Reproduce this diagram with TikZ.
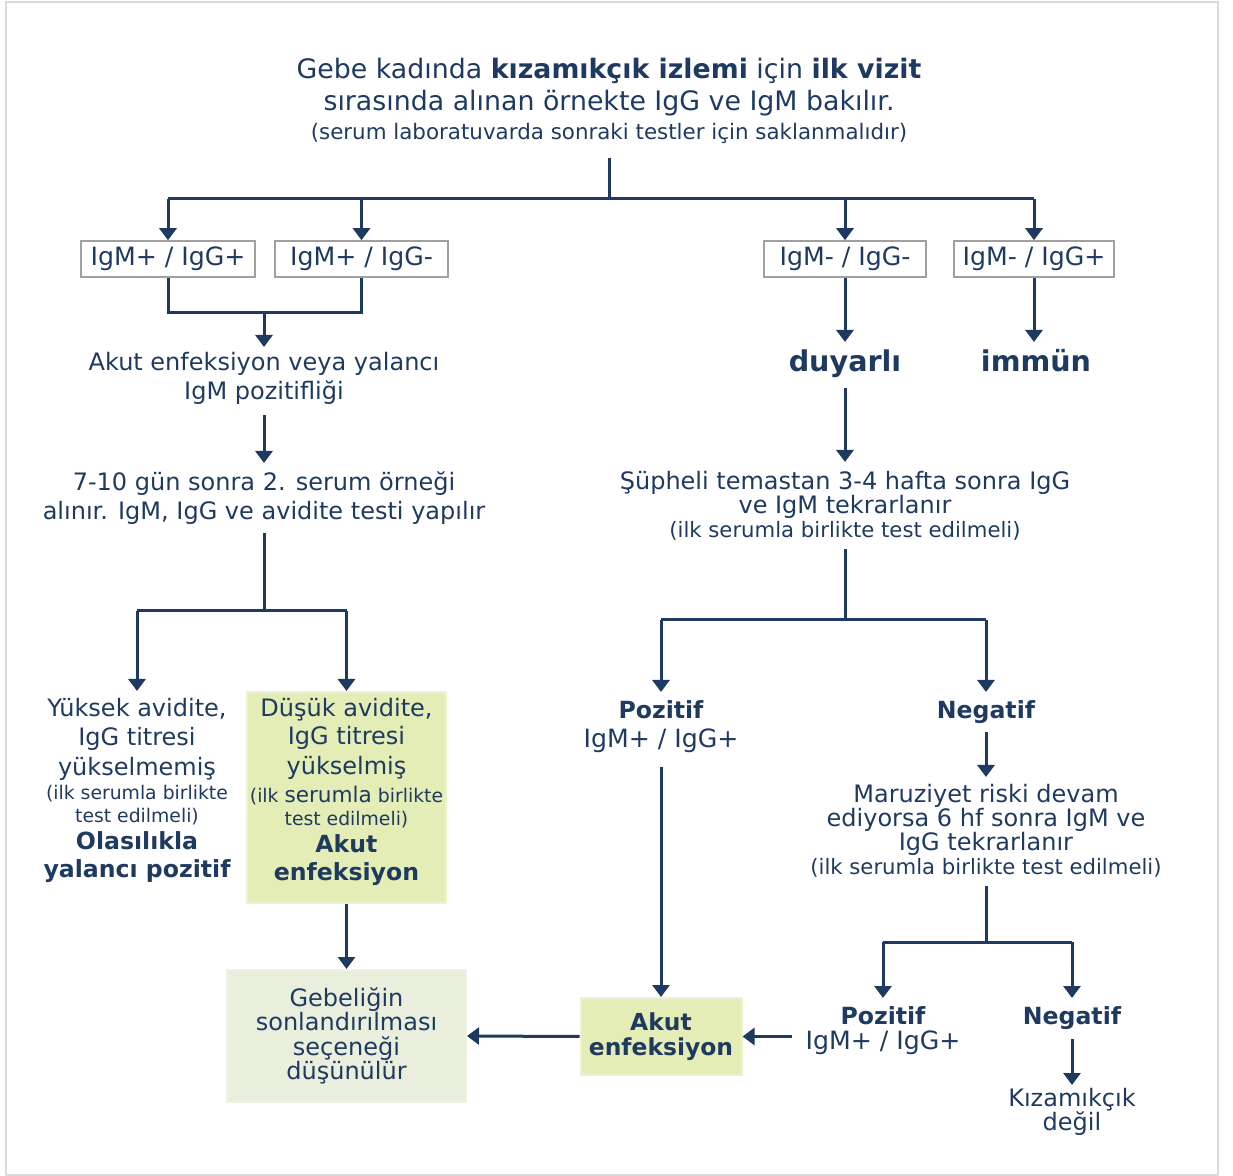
\documentclass[tikz,border=0pt]{standalone}
\usepackage{fontspec}
\setmainfont{DejaVu Sans}
\usetikzlibrary{arrows.meta}

\definecolor{navy}{RGB}{31,58,96}
\definecolor{boxgray}{RGB}{160,160,160}
\definecolor{framegray}{RGB}{218,218,218}
\definecolor{fillLime}{RGB}{227,237,181}
\definecolor{fillLimeEdge}{RGB}{236,241,212}
\definecolor{fillPale}{RGB}{233,239,220}
\definecolor{fillPaleEdge}{RGB}{238,241,230}

\newcommand{\notefont}{\fontsize{10.6}{12}\selectfont}
\newcommand{\boxnote}{\fontsize{9.4}{11}\selectfont}
\newcommand{\boldfont}{\fontsize{11.8}{14}\selectfont\bfseries}
\newcommand{\igfont}{\fontsize{12.6}{14.5}\selectfont}

\tikzset{
	txt/.style={text=navy, align=center, inner sep=0pt, font=\fontsize{12}{14.5}\selectfont},
	igbox/.style={txt, font=\igfont, draw=boxgray, line width=0.8pt, minimum height=18pt},
	greenbox/.style={txt, fill=fillLime, draw=fillLimeEdge, line width=1pt},
	wire/.style={draw=navy, line width=1.5pt},
	flow/.style={wire, -{Triangle[width=8.5pt,length=6pt]}},
}

\begin{document}
\begin{tikzpicture}[x=0.5pt,y=-0.5pt]
		\useasboundingbox (0,0) rectangle (1233,1176);
		\draw[framegray, line width=1pt] (6,2) rectangle (1218,1175);

		% first visit
		\node[txt, font=\fontsize{13.4}{16}\selectfont, anchor=north] (title) at (609,58)
		{Gebe kadında \textbf{kızamıkçık izlemi} için \textbf{ilk vizit}\\
		sırasında alınan örnekte IgG ve IgM bakılır.\\[-1.5pt]
		{\fontsize{10.7}{12}\selectfont (serum laboratuvarda sonraki testler için saklanmalıdır)}};
		\coordinate (split) at (609,199);
		\draw[wire] (title.south) ++(0,14) -- (split);

		\node[igbox, minimum width=87pt] (pp) at (168,259) {IgM+ / IgG+};
		\node[igbox, minimum width=86.5pt] (pn) at (361.5,259) {IgM+ / IgG-};
		\node[igbox, minimum width=81pt] (nn) at (845,259) {IgM- / IgG-};
		\node[igbox, minimum width=80pt] (np) at (1034,259) {IgM- / IgG+};
		\draw[wire] (pp.north |- split) -- (np.north |- split);
		\foreach \b in {pp,pn,nn,np}
			\draw[flow] (\b.north |- split) -- (\b.north);

		% IgM positive branch
		\coordinate (join1) at (264,313);
		\draw[wire] (pp.south) |- (join1) -| (pn.south);
		\node[txt, anchor=north] (falsepos) at (264,352) {Akut enfeksiyon veya yalancı\\IgM pozitifliği};
		\draw[flow, shorten >=2.5pt] (join1) -- (falsepos.north);

		\node[txt, anchor=north] (second) at (264,471) {7-10 gün sonra 2. serum örneği\\alınır. IgM, IgG ve avidite testi yapılır};
		\draw[flow] (falsepos.south) ++(0,10) -- ([yshift=4pt]second.north);

		\coordinate (split2) at (264,611);
		\draw[wire] (second.south) ++(0,8) -- (split2);
		\node[txt, anchor=north] (high) at (137,698)
		{Yüksek avidite,\\IgG titresi\\[0.5pt]yükselmemiş\\[-2.5pt]
		{\boxnote (ilk serumla birlikte}\\[-3pt]{\boxnote test edilmeli)}\\[-1pt]
		{\boldfont Olasılıkla}\\[-0.5pt]{\boldfont yalancı pozitif}};
		\node[greenbox, minimum width=99.5pt, minimum height=105.5pt, text depth=7.8pt] (low) at (346.5,797.5)
		{Düşük avidite,\\[-0.5pt]IgG titresi\\[0.5pt]yükselmiş\\[-0.5pt]
		{\boxnote (ilk {\fontsize{10.8}{12}\selectfont serumla} birlikte}\\[-3pt]{\boxnote test edilmeli)}\\[-1pt]
		{\boldfont Akut}\\[-0.5pt]{\boldfont enfeksiyon}};
		\draw[wire] (high.north |- split2) -- (low.north |- split2);
		\draw[flow] (high.north |- split2) -- ([yshift=3.5pt]high.north);
		\draw[flow] (low.north |- split2) -- (low.north);

		\node[greenbox, fill=fillPale, draw=fillPaleEdge, minimum width=119.5pt, minimum height=66pt] (termination) at (346.5,1036)
		{Gebeliğin\\[-2.3pt]sonlandırılması\\[-2.3pt]seçeneği\\[-2.3pt]düşünülür};
		\draw[flow] (low.south) -- (termination.north);

		% IgM negative branch
		\node[txt, font=\fontsize{14.3}{17}\selectfont\bfseries, anchor=north] (susc) at (845,349) {duyarlı};
		\node[txt, font=\fontsize{14.3}{17}\selectfont\bfseries, anchor=north] (immune) at (1036,349) {immün};
		\draw[flow] (nn.south) -- ([yshift=3.5pt]susc.north);
		\draw[flow] (np.south) -- ([yshift=3.5pt]immune.north -| np.south);

		\node[txt, anchor=north] (retest) at (845,471)
		{Şüpheli temastan 3-4 hafta sonra IgG\\[-2.5pt]ve IgM tekrarlanır\\[-2.5pt]
		{\notefont (ilk serumla birlikte test edilmeli)}};
		\draw[flow] (susc.south) ++(0,10) -- ([yshift=4.5pt]retest.north);

		\coordinate (split3) at (845,620);
		\draw[wire] (retest.south) ++(0,8) -- (split3);
		\node[txt, anchor=north] (pos1) at (661,700) {{\boldfont Pozitif}\\{\igfont IgM+ / IgG+}};
		\node[txt, anchor=north] (neg1) at (986,700) {\boldfont Negatif};
		\draw[wire] (pos1.north |- split3) -- (neg1.north |- split3);
		\draw[flow] (pos1.north |- split3) -- ([yshift=4pt]pos1.north);
		\draw[flow] (neg1.north |- split3) -- ([yshift=4pt]neg1.north);

		\node[greenbox, font=\fontsize{11.7}{12.5}\selectfont\bfseries, minimum width=80.5pt, minimum height=38.5pt] (acute) at (661,1036.5) {Akut\\enfeksiyon};
		\draw[flow] (pos1.south) ++(0,14) -- (acute.north);

		\node[txt, anchor=north] (exposure) at (986,784)
		{Maruziyet riski devam\\[-2.5pt]ediyorsa 6 hf sonra IgM ve\\[-2.5pt]IgG tekrarlanır\\[-2.5pt]
		{\notefont (ilk serumla birlikte test edilmeli)}};
		\draw[flow] (neg1.south) ++(0,8) -- ([yshift=3.5pt]exposure.north);

		\coordinate (split4) at (986,942);
		\draw[wire] (exposure.south) ++(0,8) -- (split4);
		\node[txt, anchor=north] (pos2) at (883,1006) {{\boldfont Pozitif}\\[-2pt]{\igfont IgM+ / IgG+}};
		\node[txt, anchor=north] (neg2) at (1072,1006) {\boldfont Negatif};
		\draw[wire] (pos2.north |- split4) -- (neg2.north |- split4);
		\draw[flow] (pos2.north |- split4) -- ([yshift=4pt]pos2.north);
		\draw[flow] (neg2.north |- split4) -- ([yshift=4pt]neg2.north);

		\node[txt, anchor=north] (notmeasles) at (1072,1088) {Kızamıkçık\\[-2.5pt]değil};
		\draw[flow] (neg2.south) ++(0,9) -- ([yshift=1.5pt]notmeasles.north);

		\draw[flow] ([xshift=-6.5pt]acute.east -| pos2.west) -- (acute.east);
		\draw[flow] (acute.west) -- (termination.east);
	\end{tikzpicture}
\end{document}
